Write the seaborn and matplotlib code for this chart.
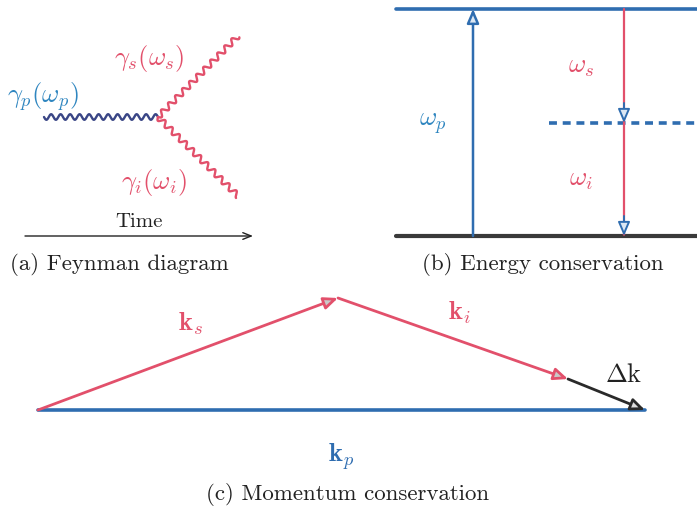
import numpy as np
import matplotlib
matplotlib.use("Agg")
import matplotlib.pyplot as plt
import seaborn as sns

sns.set_theme(style="white")
plt.rcParams["mathtext.fontset"] = "cm"
plt.rcParams["font.family"] = ["cmr10", "DejaVu Serif"]

# ---------------- data (pixel-space diagram coordinates) ----------------
# (a) Feynman diagram
vertex = (158, 117)
pump_start = (44, 117)
signal_end = (238, 36)
idler_end = (238, 196)
time_arrow_x = [25, 253]
time_arrow_y = [236, 236]

# (b) Energy conservation
level_x = [396, 697]
upper_y = 9
virtual_y = 123
ground_y = 236
virtual_x = [549, 697]
pump_arrow_x = 473
signal_arrow_x = 624

# (c) Momentum conservation
k_origin = (38, 410)
k_apex = (338, 298)
k_idler_end = (568, 379)
k_pump_end = (645, 410)

RED = "#e2506b"
BLUE = "#2f6db0"
NAVY = "#3a4686"
LBLUE = "#2f86c0"
DARK = "#333333"

fig = plt.figure(figsize=(6.97, 5.12), dpi=100)
ax = fig.add_axes([0, 0, 1, 1])
ax.set_xlim(0, 697)
ax.set_ylim(512, 0)
ax.axis("off")


def wavy(p0, p1, period, amp, color):
    p0 = np.array(p0, float)
    p1 = np.array(p1, float)
    d = p1 - p0
    L = np.hypot(*d)
    t = np.linspace(0, 1, 600)
    u = d / L
    n = np.array([-u[1], u[0]])
    off = amp * np.sin(2 * np.pi * t * L / period)
    pts = p0[None, :] + t[:, None] * d[None, :] + off[:, None] * n[None, :]
    sns.lineplot(x=pts[:, 0], y=pts[:, 1], ax=ax, color=color, lw=1.7,
                 sort=False, estimator=None)


def arrow(p0, p1, ec, fc, lw=1.8, hl=0.7, hw=0.3):
    ax.annotate("", xy=p1, xytext=p0,
                arrowprops=dict(arrowstyle=f"-|>,head_length={hl},head_width={hw}",
                                ec=ec, fc=fc, lw=lw, shrinkA=0, shrinkB=0))


MATH = 19
CAP = 16.5

# ---- (a) ----
wavy(pump_start, vertex, 9.5, 2.8, NAVY)
wavy(vertex, signal_end, 10.0, 2.8, RED)
wavy(vertex, idler_end, 10.0, 2.8, RED)
ax.text(43, 97, r"$\gamma_p(\omega_p)$", color=LBLUE, fontsize=MATH, ha="center", va="center")
ax.text(149, 58, r"$\gamma_s(\omega_s)$", color=RED, fontsize=MATH, ha="center", va="center")
ax.text(154, 182, r"$\gamma_i(\omega_i)$", color=RED, fontsize=MATH, ha="center", va="center")
ax.text(139, 222, "Time", color="#222222", fontsize=15, ha="center", va="center")
ax.annotate("", xy=(time_arrow_x[1], time_arrow_y[1]), xytext=(time_arrow_x[0], time_arrow_y[0]),
            arrowprops=dict(arrowstyle="->,head_length=0.5,head_width=0.2", color="#222222",
                            lw=1.0, shrinkA=0, shrinkB=0))
ax.text(119, 264, "(a) Feynman diagram", color="#222222", fontsize=CAP, ha="center", va="center")

# ---- (b) ----
sns.lineplot(x=level_x, y=[upper_y, upper_y], ax=ax, color=BLUE, lw=2.6)
sns.lineplot(x=level_x, y=[ground_y, ground_y], ax=ax, color="#3a3a3a", lw=3.0)
sns.lineplot(x=virtual_x, y=[virtual_y, virtual_y], ax=ax, color=BLUE, lw=2.6,
             linestyle=(0, (2.2, 1.6)))
arrow((pump_arrow_x, ground_y), (pump_arrow_x, upper_y), BLUE, "#dce8f4")
arrow((signal_arrow_x, upper_y), (signal_arrow_x, virtual_y), RED, RED, lw=1.6, hl=0.01, hw=0.01)
arrow((signal_arrow_x, virtual_y), (signal_arrow_x, ground_y), RED, RED, lw=1.6, hl=0.01, hw=0.01)
# hollow blue arrow heads on the red transitions
arrow((signal_arrow_x, virtual_y - 20), (signal_arrow_x, virtual_y), BLUE, "#dce8f4", lw=1.4)
arrow((signal_arrow_x, ground_y - 20), (signal_arrow_x, ground_y), BLUE, "#dce8f4", lw=1.4)
ax.text(433, 124, r"$\omega_p$", color=LBLUE, fontsize=MATH, ha="center", va="center")
ax.text(581, 67, r"$\omega_s$", color=RED, fontsize=MATH, ha="center", va="center")
ax.text(581, 180, r"$\omega_i$", color=RED, fontsize=MATH, ha="center", va="center")
ax.text(543, 265, "(b) Energy conservation", color="#222222", fontsize=CAP, ha="center", va="center")

# ---- (c) ----
sns.lineplot(x=[k_origin[0], k_pump_end[0]], y=[k_origin[1], k_pump_end[1]], ax=ax,
             color=BLUE, lw=2.6)
arrow(k_origin, k_apex, RED, "#c9c9c9", lw=2.0)
arrow(k_apex, k_idler_end, RED, "#c9c9c9", lw=2.0)
arrow(k_idler_end, k_pump_end, "#2a2a2a", "#dddddd", lw=2.0)
ax.text(190, 324, r"$\mathbf{k}_s$", color=RED, fontsize=MATH, ha="center", va="center")
ax.text(459, 313, r"$\mathbf{k}_i$", color=RED, fontsize=MATH, ha="center", va="center")
ax.text(624, 375, r"$\Delta\mathrm{k}$", color="#222222", fontsize=MATH, ha="center", va="center")
ax.text(341, 457, r"$\mathbf{k}_p$", color=BLUE, fontsize=MATH, ha="center", va="center")
ax.text(348, 494, "(c) Momentum conservation", color="#222222", fontsize=CAP, ha="center", va="center")

fig.savefig("out.png", dpi=100)
